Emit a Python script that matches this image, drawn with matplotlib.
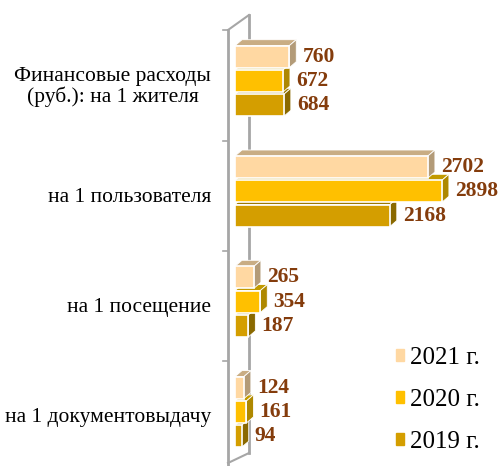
import matplotlib.pyplot as plt
from matplotlib.patches import Polygon, Patch

categories = ["Финансовые расходы\n(руб.): на 1 жителя", "на 1 пользователя",
              "на 1 посещение", "на 1 документовыдачу"]
years = ["2021 г.", "2020 г.", "2019 г."]
v2021 = [760, 2702, 265, 124]
v2020 = [672, 2898, 354, 161]
v2019 = [684, 2168, 187, 94]

front = ["#FFD8A2", "#FFC000", "#D49E00"]
side = ["#B39B78", "#AE8800", "#8A6900"]
top = ["#C9AD84", "#C29A00", "#9E7A00"]

plt.rcParams['font.family'] = ['Liberation Serif', 'DejaVu Serif']

W, H = 499, 466
fig = plt.figure(figsize=(W / 100, H / 100), dpi=100)
ax = fig.add_axes([0, 0, 1, 1])
ax.axis('off')

# pixel geometry -> data units
x0_px = 235          # where value 0 sits
sx = 0.0714          # px per value unit
cat_px = 110.3       # px per category
c0_px = 81           # centre of first category
ax.set_xlim(-x0_px / sx, (W - x0_px) / sx)
ax.set_ylim((H - c0_px) / cat_px, -c0_px / cat_px)

dx = 7 / sx
dy = 6 / cat_px
pitch = 24.3 / cat_px
bh = 22 / cat_px

# wall (3d axis)
gray = "#A6A6A6"
fx, bx = -7 / sx, 14 / sx
ytop_f, ytop_b = -51 / cat_px, -66 / cat_px
ybot_f, ybot_b = (463 - c0_px) / cat_px, (453 - c0_px) / cat_px
ax.plot([bx, bx], [ytop_b, ybot_b], color=gray, lw=2, zorder=0)
ax.plot([fx, fx], [ytop_f, (H + 5 - c0_px) / cat_px], color=gray, lw=2, zorder=5, clip_on=False)
ax.plot([fx, bx], [ytop_f, ytop_b], color=gray, lw=1.5, zorder=0)
ax.plot([fx, bx], [ybot_f, ybot_b], color=gray, lw=1.5, zorder=0)
ax.plot([fx - 5 / sx, fx], [ytop_f, ytop_f], color=gray, lw=1.2, zorder=5)
for i in range(1, 4):
    yt = i - 0.46
    ax.plot([fx - 5 / sx, fx], [yt, yt], color=gray, lw=1.2, zorder=5)

series = [v2021, v2020, v2019]
# draw lower bars first so upper ones cover their top faces
for k in [2, 1, 0]:
    vals = series[k]
    ys = [i + (k - 1) * pitch for i in range(len(categories))]
    ax.barh(ys, vals, height=bh, color=front[k], edgecolor="white", lw=1.2, zorder=2 + (3 - k) * 3)
    for y, v in zip(ys, vals):
        t, b = y - bh / 2, y + bh / 2
        ax.add_patch(Polygon([(0, t), (v, t), (v + dx, t - dy), (dx, t - dy)],
                             closed=True, fc=top[k], ec="white", lw=0.6, zorder=1 + (3 - k) * 3))
        ax.add_patch(Polygon([(v, t), (v + dx, t - dy), (v + dx, b - dy), (v, b)],
                             closed=True, fc=side[k], ec="white", lw=0.6, zorder=1 + (3 - k) * 3))
        ax.text(v + dx + 6 / sx, y, str(v), ha='left', va='center', fontsize=15.5,
                fontweight='bold', color="#843C0C", zorder=20)

for i, c in enumerate(categories):
    ax.text(-24 / sx, i + 0.055, c, ha='right', va='center', multialignment='center',
            fontsize=15.5, color="black", linespacing=1.05)

handles = [Patch(color=front[k], label=years[k]) for k in range(3)]
ax.legend(handles=handles, loc='upper left', bbox_to_anchor=(396 / W, 1 - 347 / H),
          bbox_transform=fig.transFigure, frameon=False, fontsize=18,
          handlelength=0.33, handleheight=0.33, handletextpad=0.25,
          labelspacing=0.8, borderaxespad=0, borderpad=0)

fig.savefig("out.png", dpi=100)
